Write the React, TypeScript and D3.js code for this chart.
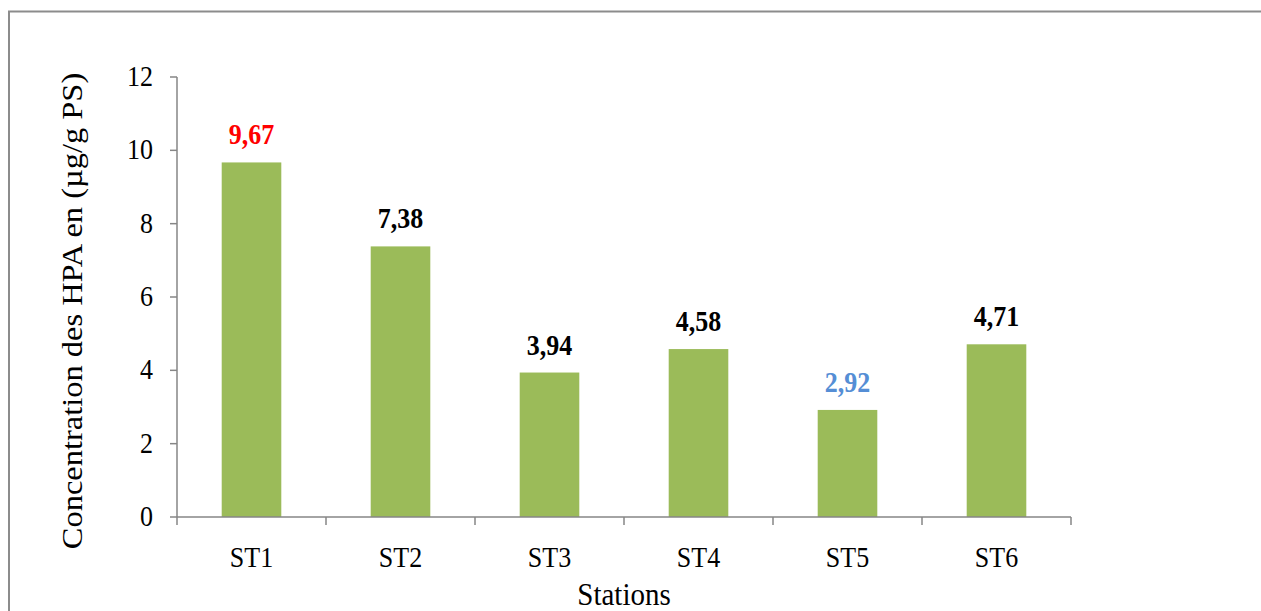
import React from "react";
import * as d3 from "d3";

const categories = ["ST1", "ST2", "ST3", "ST4", "ST5", "ST6"];
const values = [9.67, 7.38, 3.94, 4.58, 2.92, 4.71];
const labelTexts = ["9,67", "7,38", "3,94", "4,58", "2,92", "4,71"];
const labelColors = ["#FF0000", "#000000", "#000000", "#000000", "#558ED5", "#000000"];
const yTicks = [0, 2, 4, 6, 8, 10, 12];

const W = 1261;
const H = 611;
const FONT = "'Liberation Serif', 'Times New Roman', serif";
const SY = 1.12;
const AX = "#868686";

export default function App() {
  const x = d3.scaleBand<string>().domain(categories).range([177, 1071]).paddingInner(0.6).paddingOuter(0.3);
  const y = d3.scaleLinear().domain([0, 12]).range([517, 77]);
  const step = x.step();
  const x0 = 177;
  const boundaries = d3.range(categories.length + 1).map((i) => x0 + i * step);

  return (
    <div style={{ position: "absolute", left: 0, top: 0, width: W, height: H, background: "#fff" }}>
      <svg width={W} height={H} style={{ display: "block" }}>
        <rect x={0} y={0} width={W} height={H} fill="#fff" />
        {/* outer border */}
        <path d={`M9,${H + 5} L9,11.5 L${W + 5},11.5`} fill="none" stroke="#8c8c8c" strokeWidth={2} />

        {/* bars */}
        {values.map((v, i) => (
          <rect key={categories[i]} x={x(categories[i])} y={y(v)} width={x.bandwidth()} height={y(0) - y(v)} fill="#9BBB59" />
        ))}

        {/* y axis */}
        <line x1={177} x2={177} y1={y(12)} y2={y(0)} stroke={AX} strokeWidth={1.5} />
        {yTicks.map((t) => (
          <g key={t}>
            <line x1={170} x2={177} y1={y(t)} y2={y(t)} stroke={AX} strokeWidth={1.5} />
            <text
              transform={`translate(153,${y(t) + 9}) scale(1,${SY})`}
              textAnchor="end"
              fontFamily={FONT}
              fontSize={26}
              fill="#000"
            >
              {t}
            </text>
          </g>
        ))}

        {/* x axis */}
        <line x1={177} x2={1071} y1={y(0)} y2={y(0)} stroke={AX} strokeWidth={1.5} />
        {boundaries.map((b, i) => (
          <line key={i} x1={b} x2={b} y1={y(0)} y2={525} stroke={AX} strokeWidth={1.5} />
        ))}
        {categories.map((c) => (
          <text
            key={c}
            transform={`translate(${(x(c) as number) + x.bandwidth() / 2},567) scale(1,${SY})`}
            textAnchor="middle"
            fontFamily={FONT}
            fontSize={26}
            fill="#000"
          >
            {c}
          </text>
        ))}

        {/* value labels */}
        {values.map((v, i) => (
          <text
            key={"l" + i}
            transform={`translate(${(x(categories[i]) as number) + x.bandwidth() / 2},${y(v) - 18}) scale(1,${SY})`}
            textAnchor="middle"
            fontFamily={FONT}
            fontSize={26}
            fontWeight="bold"
            fill={labelColors[i]}
          >
            {labelTexts[i]}
          </text>
        ))}

        {/* axis titles */}
        <text
          transform={`translate(624,605) scale(1,${SY})`}
          textAnchor="middle"
          fontFamily={FONT}
          fontSize={29}
          fill="#000"
        >
          Stations
        </text>
        <text
          transform={`translate(82,311) rotate(-90) scale(${SY},1)`}
          textAnchor="middle"
          fontFamily={FONT}
          fontSize={29}
          fill="#000"
        >
          Concentration des HPA en (µg/g PS)
        </text>
      </svg>
    </div>
  );
}
